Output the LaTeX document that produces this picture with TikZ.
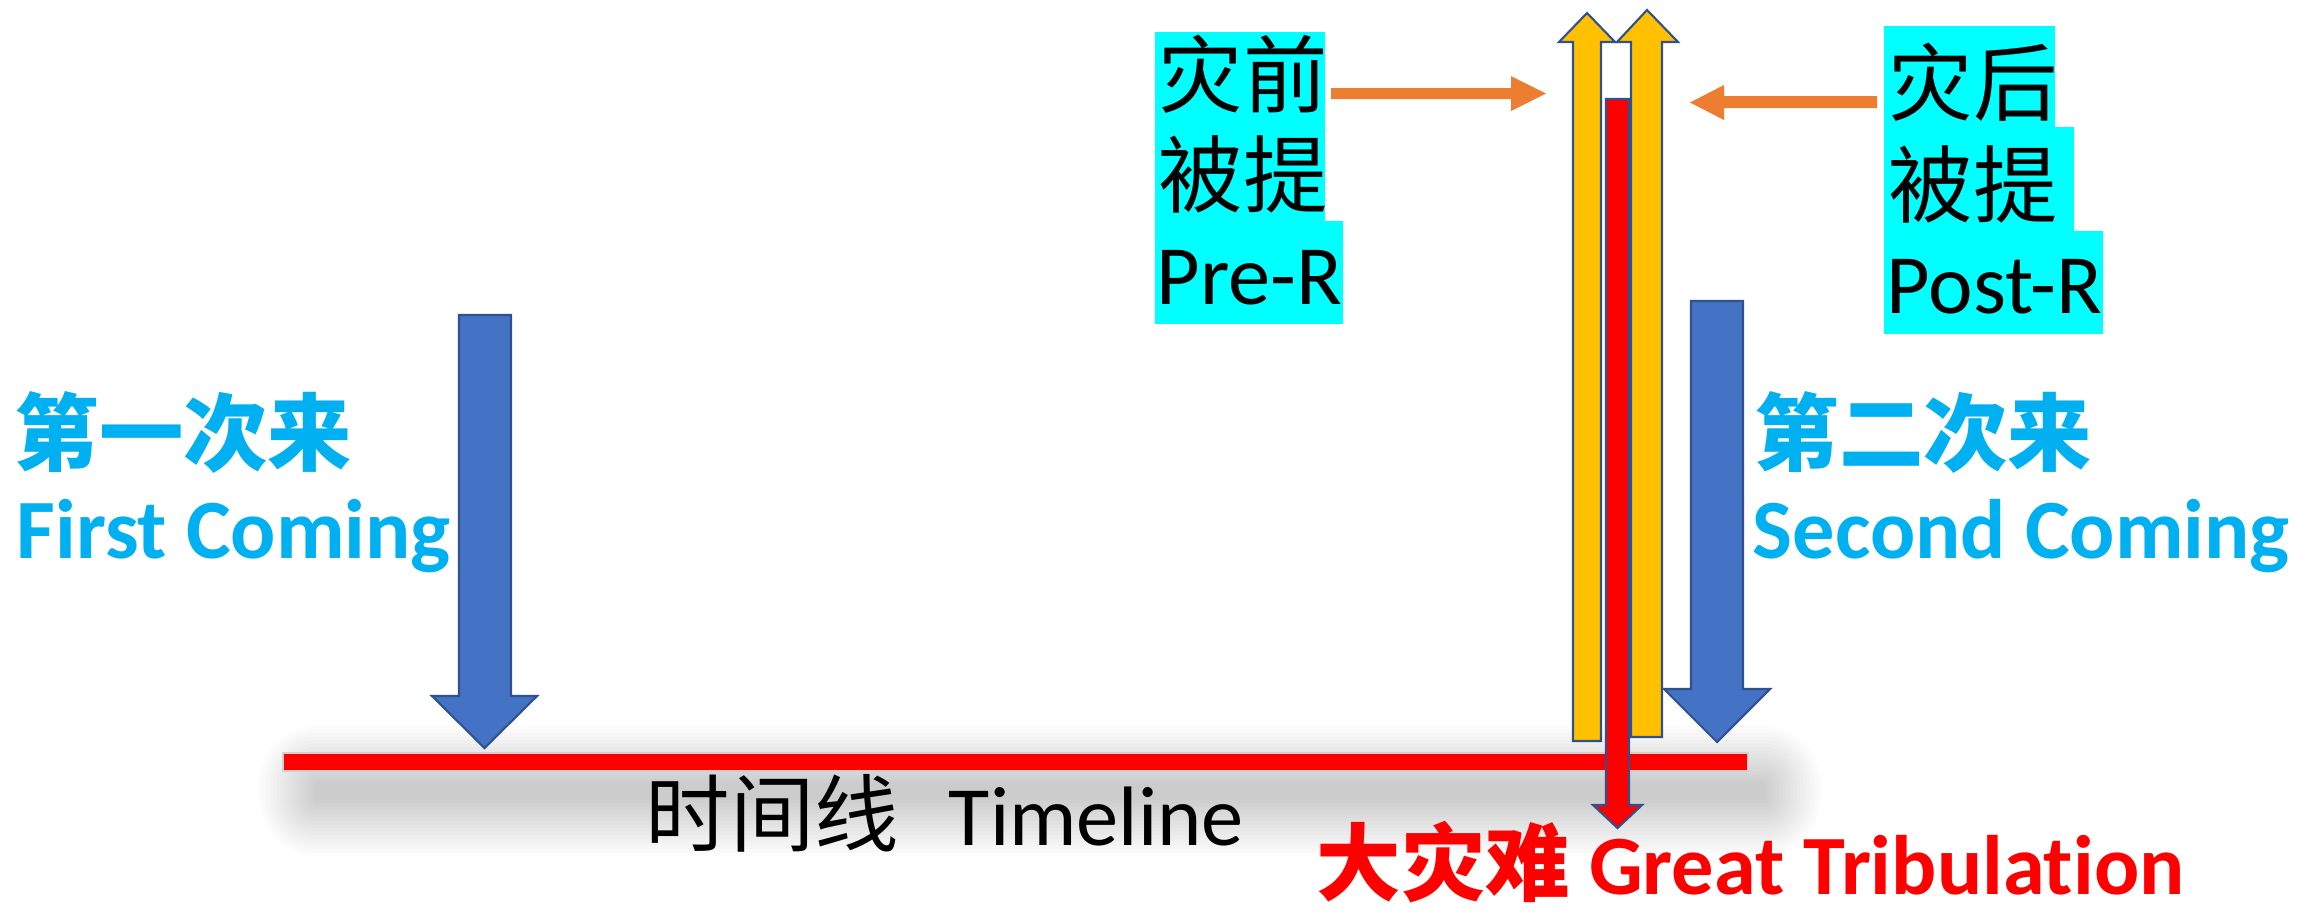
\documentclass[tikz,border=0pt]{standalone}
\usepackage{fontspec}
\setmainfont{Carlito}[Ligatures={NoCommon}]
\newfontfamily\cjk{Noto Sans CJK SC}
\definecolor{cyantext}{HTML}{00B0F0}
\definecolor{hlcyan}{HTML}{00FFFF}
\definecolor{blockblue}{HTML}{4472C4}
\definecolor{edgeblue}{HTML}{2F528F}
\definecolor{gold}{HTML}{FFC000}
\definecolor{orangearrow}{HTML}{ED7D31}
\definecolor{purered}{HTML}{FF0000}
\begin{document}
\begin{tikzpicture}[x=0.01cm,y=-0.01cm,
  txt/.style={inner sep=0pt, anchor=base west, font=\fontsize{24}{28}\selectfont},
  hl/.style={fill=hlcyan},
  bluearrow/.style={fill=blockblue, draw=edgeblue, line width=0.6pt, line join=miter},
  goldarrow/.style={fill=gold, draw=edgeblue, line width=0.6pt, line join=miter},
  redarrow/.style={fill=purered, draw=edgeblue, line width=0.6pt, line join=miter},
  orangearr/.style={fill=orangearrow},
  shadowlayer/.style={fill=black, fill opacity=0.013},
  timeline/.style={fill=purered, draw=black!18, line width=0.7pt}
]
\useasboundingbox[fill=white] (0,0) rectangle (2303,911);

% soft shadow under the timeline (stacked translucent layers)
\foreach \k in {0,...,16}{
  \pgfmathsetmacro\rr{0.5+\k*1.0}
  \fill[shadowlayer, rounded corners=\rr pt] (315-3.5*\k,782-3.5*\k) rectangle (1765+3.5*\k,800+3.5*\k);
}
% timeline
\path[timeline] (283,753) rectangle (1748,771);

% blue arrows (first and second coming)
\draw[bluearrow] (459,315) -- (511,315) -- (511,696) -- (537,696) -- (484.5,748) -- (432,696) -- (459,696) -- cycle;
\draw[bluearrow] (1691,301) -- (1743,301) -- (1743,689) -- (1770,689) -- (1717,742) -- (1664,689) -- (1691,689) -- cycle;

% yellow up arrows
\draw[goldarrow] (1573,741) -- (1573,42) -- (1559,42) -- (1587,13) -- (1615,42) -- (1601,42) -- (1601,741) -- cycle;
\draw[goldarrow] (1631,737) -- (1631,42) -- (1617,42) -- (1647,10) -- (1678,42) -- (1662,42) -- (1662,737) -- cycle;

% red down arrow (great tribulation)
\draw[redarrow] (1606,99) -- (1629,99) -- (1629,805) -- (1642,805) -- (1617.5,828) -- (1593,805) -- (1606,805) -- cycle;

% orange arrows
\fill[orangearr] (1331,88) -- (1511,88) -- (1511,76) -- (1546,93.5) -- (1511,111) -- (1511,99) -- (1331,99) -- cycle;
\fill[orangearr] (1877,96) -- (1724,96) -- (1724,85) -- (1690,102.5) -- (1724,120) -- (1724,108) -- (1877,108) -- cycle;

% highlights
\fill[hl] (1155,32) rectangle (1325,221);
\fill[hl] (1155,221) rectangle (1343,324);
\fill[hl] (1884,26) rectangle (2055,127);
\fill[hl] (1884,127) rectangle (2074,231);
\fill[hl] (1884,231) rectangle (2103,334);

% texts
\node[txt] (pre1) at (1158,106) {\cjk 灾前};
\node[txt] (pre2) at (1158,206) {\cjk 被提};
\node[txt] (pre3) at (1156,304) {Pre-R};
\node[txt] (post1) at (1888,114) {\cjk 灾后};
\node[txt] (post2) at (1888,216) {\cjk 被提};
\node[txt] (post3) at (1886,313) {Post-R};

\node[txt, text=cyantext] (first1) at (14,464) {\cjk\bfseries 第一次来};
\node[txt, text=cyantext] (first2) at (16,558) {\bfseries First Coming};
\node[txt, text=cyantext] (second1) at (1754,464) {\cjk\bfseries 第二次来};
\node[txt, text=cyantext] (second2) at (1752,558) {\bfseries Second Coming};

\node[txt] (tl) at (645,845) {{\cjk 时间线}\hspace{0.5cm}Timeline};
\node[txt, text=purered] (gt) at (1316,894) {\bfseries{\cjk 大灾难} Great Tribulation};
\end{tikzpicture}
\end{document}
